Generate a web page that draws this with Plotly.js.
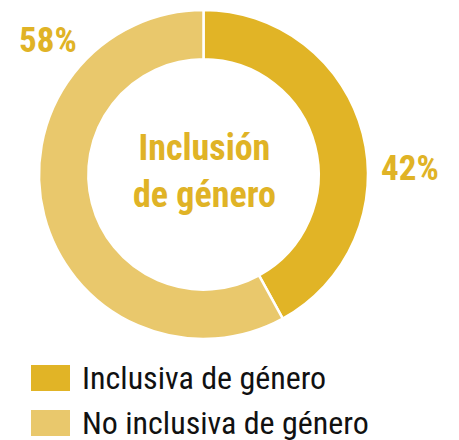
<!DOCTYPE html>
<html>
<head>
<meta charset="utf-8">
<script src="https://cdn.plot.ly/plotly-3.0.1.min.js"></script>
<style>html,body{margin:0;padding:0;background:#fff;}#chart{width:459px;height:440px;}</style>
</head>
<body>
<div id="chart"></div>
<script>
const categories = ["Inclusiva de género", "No inclusiva de género"];
const values = [42, 58];
const colors = ["#E1B426", "#E9C86C"];
const centerTitle = ["Inclusión", "de género"];

const W = 459, H = 440;
const px = x => x / W;
const py = y => (H - y) / H;

const total = values.reduce((a, b) => a + b, 0);
const pct = values.map(v => Math.round(v / total * 100) + "%");

const FAM = "Roboto Condensed, Liberation Sans Narrow, sans-serif";
const labelFont = {family: FAM, size: 35, color: "#E0B326"};

const annotations = [
  {x: px(410), y: py(168), text: "<b>" + pct[0] + "</b>", font: labelFont},
  {x: px(48), y: py(41), text: "<b>" + pct[1] + "</b>", font: labelFont},
  {x: px(204), y: py(172), text: "<b>" + centerTitle.join("<br>") + "</b>",
   font: Object.assign({}, labelFont, {size: 36})}
];
const shapes = [];
categories.forEach((c, i) => {
  const top = 365 + i * 45;
  shapes.push({type: "rect", xref: "paper", yref: "paper",
    x0: px(31), x1: px(70), y0: py(top + 26), y1: py(top),
    fillcolor: colors[i], line: {width: 0}});
  annotations.push({x: px(80), y: py(top + 12.5), xanchor: "left", text: c,
    font: {family: FAM, size: 32, color: "#111111"}});
});
annotations.forEach(a => { a.xref = "paper"; a.yref = "paper"; a.showarrow = false; if (!a.xanchor) a.xanchor = "center"; a.yanchor = "middle"; });

const trace = {
  type: "pie",
  labels: categories,
  values: values,
  hole: 0.70,
  sort: false,
  direction: "clockwise",
  rotation: 0,
  marker: {colors: colors, line: {color: "#ffffff", width: 2.5}},
  textinfo: "none",
  hoverinfo: "label+percent",
  showlegend: false,
  domain: {x: [px(39), px(368)], y: [py(339), py(10)]}
};

Plotly.newPlot("chart", [trace], {
  width: W, height: H,
  margin: {l: 0, r: 0, t: 0, b: 0},
  paper_bgcolor: "#ffffff",
  showlegend: false,
  annotations: annotations,
  shapes: shapes
}, {displayModeBar: false, staticPlot: true});
</script>
</body>
</html>
